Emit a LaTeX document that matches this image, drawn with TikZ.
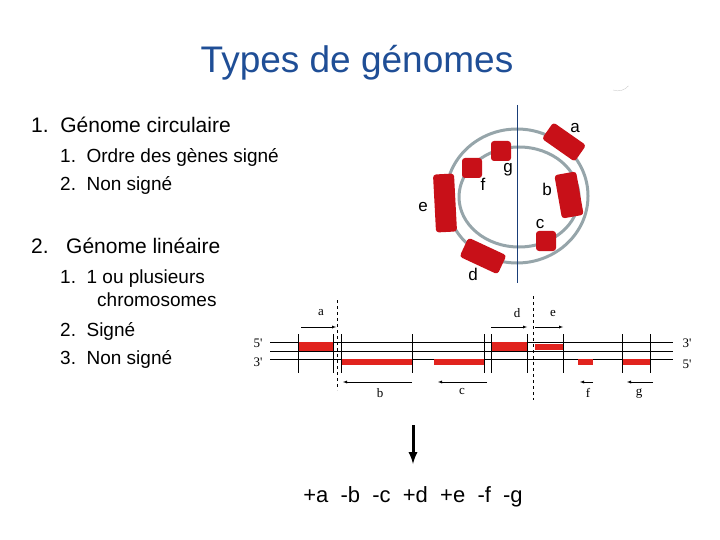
\documentclass[tikz,border=0pt]{standalone}
\usepackage{fontspec}
\setmainfont{Liberation Sans}
\newfontfamily\arial{Liberation Sans}
\newfontfamily\serif{Liberation Serif}
\usepackage{tikz}
\usetikzlibrary{arrows}
\definecolor{titleblue}{RGB}{31,78,150}
\definecolor{genered}{RGB}{200,16,24}
\definecolor{linered}{RGB}{225,35,30}
\definecolor{ringgray}{RGB}{150,165,170}
\tikzstyle{gene}=[fill=genered,rounded corners=3pt,inner sep=0pt]
\tikzstyle{lbl}=[font=\arial\fontsize{17}{17}\selectfont,inner sep=0pt]
\tikzstyle{slbl}=[font=\serif\fontsize{13}{13}\selectfont,inner sep=0pt]
\tikzstyle{item}=[anchor=base west,inner sep=0pt,font=\arial\fontsize{19}{19}\selectfont]
\begin{document}
\begin{tikzpicture}[x=1pt,y=-1pt]
    \useasboundingbox (0,0) rectangle (720,540);
    % Title and list
    \node[font=\arial\fontsize{37}{37}\selectfont,text=titleblue] (title) at (357,63) {Types de génomes};
    \node[item,font=\arial\fontsize{21}{21}\selectfont] (l1) at (31,133) {1.\ \ Génome circulaire};
    \node[item] (l11) at (60,163) {1.\ \ Ordre des gènes signé};
    \node[item] (l12) at (60,191) {2.\ \ Non signé};
    \node[item,font=\arial\fontsize{21}{21}\selectfont] (l2) at (31,253) {2.\ \ \ Génome linéaire};
    \node[item] (l21) at (60,283) {1.\ \ 1 ou plusieurs};
    \node[item] (l21b) at (97,306) {chromosomes};
    \node[item] (l22) at (60,336) {2.\ \ Signé};
    \node[item] (l23) at (60,364) {3.\ \ Non signé};
    \draw[gray!40,thin] (613,90) arc (110:40:14);

    % Circular genome
    \draw[ringgray,line width=3pt] (517,196) ellipse (71 and 67);
    \draw[ringgray,line width=3pt] (519,197) ellipse (60 and 50);
    \draw[titleblue!80!black] (517,105) -- (517,283);
    \foreach \pos/\name/\w/\h/\rot in {{(564,142)/a/40/20/-35}, {(569,195)/b/22/44/10}, {(546,241)/c/20/20/0}, {(483,256)/d/42/21/-25}, {(445,203)/e/21/58/3}, {(472,168)/f/20/20/0}, {(501,151)/g/20/20/0}}
        \node[gene,minimum width=\w,minimum height=\h,rotate=\rot] (g\name) at \pos {};
    \foreach \pos/\name in {{(575,128)/a}, {(547,189)/b}, {(540,224)/c}, {(473,274)/d}, {(423,207)/e}, {(483,184)/f}, {(508,170)/g}}
        \node[lbl] (t\name) at \pos {\name};

    % Linear genome
    \coordinate (s1) at (270,342); \coordinate (s1e) at (673,342);
    \coordinate (s2) at (270,351); \coordinate (s2e) at (673,351);
    \coordinate (s3) at (270,359); \coordinate (s3e) at (673,359);
    \foreach \a/\b in {s1/s1e, s2/s2e, s3/s3e}
        \draw (\a) -- (\b);
    \foreach \x/\y/\xx/\yy/\name in {298/342/333/351/a, 491/342/527/351/d, 535/344/563/350/e, 341/359/412/365/b, 434/359/484/365/c, 578/359/593/365/f, 622/359/650/365/g}
        \fill[linered] (\x,\y) rectangle (\xx,\yy);
    \foreach \x in {298,333,341,412,484,491,527,563,622,650}
        \draw (\x,334) -- (\x,373);
    \draw[dashed] (337,300) -- (337,390);
    \draw[dashed] (533,296) -- (533,400);
    \node[slbl] (p5l) at (258,343) {5'};
    \node[slbl] (p3l) at (258,362) {3'};
    \node[slbl] (p3r) at (687,343) {3'};
    \node[slbl] (p5r) at (687,364) {5'};
    % strand arrows
    \foreach \x/\xx/\y in {301/336/327, 491/527/327, 535/563/327, 412/343/382, 487/438/382, 593/580/382, 653/627/382}
        \draw[-latex] (\x,\y) -- (\xx,\y);
    \foreach \pos/\name in {{(321,313)/a}, {(517,313)/d}, {(553,313)/e}, {(380,393)/b}, {(462,391)/c}, {(588,393)/f}, {(639,394)/g}}
        \node[slbl] (u\name) at \pos {\name};

    % Signed order
    \coordinate (dtop) at (413,425);
    \node[font=\arial\fontsize{22}{22}\selectfont,inner sep=0pt] (order) at (413,497) {+a\ \ -b\ \ -c\ \ +d\ \ +e\ \ -f\ \ -g};
    \draw[line width=3pt,-latex] (dtop) -- (413,464);
\end{tikzpicture}
\end{document}
